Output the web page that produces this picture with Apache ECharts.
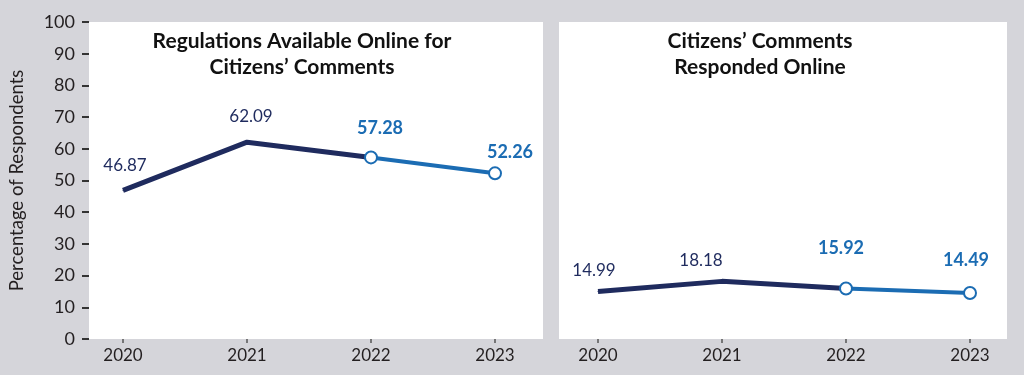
<!DOCTYPE html>
<html>
<head>
<meta charset="utf-8">
<script src="https://cdn.jsdelivr.net/npm/echarts@6/dist/echarts.min.js"></script>
<style>
  html, body { margin: 0; padding: 0; background: #d5d5da; }
  #chart { width: 1024px; height: 375px; }
</style>
</head>
<body>
<div id="chart"></div>
<script>
// data
const years = [2020, 2021, 2022, 2023]
const regulationsOnline = [46.87, 62.09, 57.28, 52.26]
const commentsResponded = [14.99, 18.18, 15.92, 14.49]
const yTicks = [0, 10, 20, 30, 40, 50, 60, 70, 80, 90, 100]
const leftTitle = 'Regulations Available Online for\nCitizens\u2019 Comments'
const rightTitle = 'Citizens\u2019 Comments\nResponded Online'

const NAVY = '#1f2b5e'
const BLUE = '#1b6cb3'
const FONT = 'Lato, "Open Sans", sans-serif'

// label offsets (dx, dy) from each point, per panel
const leftOffsets = [[2, -25], [4, -26], [9, -29], [15, -21]]
const rightOffsets = [[-4, -21], [-21, -21], [-5, -40], [-4, -33]]

const buildSeries = (values, gridIdx, offsets) => {
  const pts = years.map((y, i) => [y, values[i]])
  const navyData = pts.slice(0, 3).map((p, i) => ({
    value: p,
    label: i < 2 ? { show: true, offset: offsets[i] } : { show: false },
  }))
  const blueData = pts.slice(2).map((p, i) => ({
    value: p,
    label: { show: true, offset: offsets[i + 2] },
  }))
  return [
    {
      type: 'line',
      xAxisIndex: gridIdx,
      yAxisIndex: gridIdx,
      data: navyData,
      symbol: 'circle',
      symbolSize: 1,
      itemStyle: { color: NAVY },
      lineStyle: { color: NAVY, width: 5 },
      label: {
        position: 'inside',
        color: NAVY,
        fontSize: 17,
        fontFamily: FONT,
        formatter: p => p.value[1].toFixed(2),
      },
      z: 2,
      animation: false,
    },
    {
      type: 'line',
      xAxisIndex: gridIdx,
      yAxisIndex: gridIdx,
      data: blueData,
      symbol: 'emptyCircle',
      symbolSize: 12,
      itemStyle: { color: BLUE, borderColor: BLUE, borderWidth: 3 },
      lineStyle: { color: BLUE, width: 4 },
      label: {
        position: 'inside',
        color: BLUE,
        fontSize: 18,
        fontWeight: 'bold',
        fontFamily: FONT,
        formatter: p => p.value[1].toFixed(2),
      },
      z: 3,
      animation: false,
    },
  ]
}

const xAxisBase = (gridIndex, min, max) => ({
  type: 'value',
  gridIndex,
  min,
  max,
  axisLine: { show: false },
  splitLine: { show: false },
  axisTick: { show: true, customValues: years, length: 4, lineStyle: { color: '#555', width: 1.5 } },
  axisLabel: {
    customValues: years,
    formatter: v => String(v),
    color: '#231f20',
    fontSize: 17,
    fontFamily: FONT,
    margin: 8,
  },
})

const chart = echarts.init(document.getElementById('chart'))
chart.setOption({
  backgroundColor: '#d5d5da',
  animation: false,
  grid: [
    { left: 89, top: 22, width: 454, height: 317, show: true, backgroundColor: '#fff', borderWidth: 0 },
    { left: 559, top: 22, width: 448, height: 317, show: true, backgroundColor: '#fff', borderWidth: 0 },
  ],
  xAxis: [
    xAxisBase(0, 2020 - 34 / 124, 2023 + 48 / 124),
    xAxisBase(1, 2020 - 39 / 124, 2023 + 37 / 124),
  ],
  yAxis: [
    {
      type: 'value',
      gridIndex: 0,
      min: yTicks[0],
      max: yTicks[yTicks.length - 1],
      interval: 10,
      name: 'Percentage of Respondents',
      nameLocation: 'middle',
      nameGap: 62,
      nameTextStyle: { color: '#231f20', fontSize: 18.5, fontFamily: FONT },
      axisLine: { show: false },
      axisTick: { show: true, length: 7, lineStyle: { color: '#333', width: 2 } },
      axisLabel: { color: '#231f20', fontSize: 18, fontFamily: FONT, margin: 14 },
      splitLine: { show: false },
    },
    {
      type: 'value',
      gridIndex: 1,
      min: 0,
      max: 100,
      show: false,
      splitLine: { show: false },
    },
  ],
  graphic: [
    {
      type: 'text',
      x: 302,
      y: 28,
      style: { text: leftTitle, textAlign: 'center', fill: '#111', font: 'bold 21px ' + FONT, lineHeight: 26 },
    },
    {
      type: 'text',
      x: 760,
      y: 28,
      style: { text: rightTitle, textAlign: 'center', fill: '#111', font: 'bold 21px ' + FONT, lineHeight: 26 },
    },
  ],
  series: [
    ...buildSeries(regulationsOnline, 0, leftOffsets),
    ...buildSeries(commentsResponded, 1, rightOffsets),
  ],
})
</script>
</body>
</html>
